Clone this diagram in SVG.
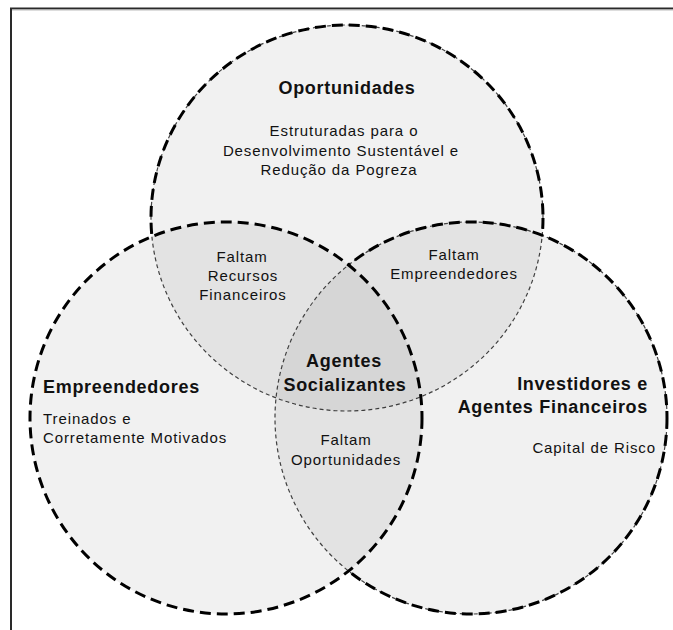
<svg xmlns="http://www.w3.org/2000/svg" width="673" height="630" viewBox="0 0 673 630">
  <style>
    .fill { fill: #000; fill-opacity: 0.055; stroke: none; }
    .thin { fill: none; stroke: #444; stroke-width: 1.2; stroke-dasharray: 4 3; }
    .bold { fill: none; stroke: #000; stroke-width: 3; stroke-dasharray: 11 6; }
    text { font-family: "Liberation Sans", Arial, sans-serif; fill: #111; }
    .h { font-size: 18px; font-weight: bold; letter-spacing: 0.7px; }
    .t { font-size: 15px; letter-spacing: 0.9px; }
    .c { text-anchor: middle; }
    .e { text-anchor: end; }
  </style>
  <defs>
    <mask id="mTop" maskUnits="userSpaceOnUse" x="0" y="0" width="673" height="630">
      <rect x="0" y="0" width="673" height="630" fill="#fff"/>
      <circle cx="226" cy="418" r="196" fill="#000"/>
      <circle cx="471" cy="418" r="196" fill="#000"/>
    </mask>
    <mask id="mRight" maskUnits="userSpaceOnUse" x="0" y="0" width="673" height="630">
      <rect x="0" y="0" width="673" height="630" fill="#fff"/>
      <circle cx="226" cy="418" r="196" fill="#000"/>
    </mask>
  </defs>

  <rect x="0" y="0" width="673" height="630" fill="#fff"/>

  <!-- frame -->
  <g id="frame" fill="none">
    <line x1="10" y1="8.5" x2="673" y2="8.5" stroke="#2a2a2a" stroke-width="2"/>
    <line x1="10" y1="10" x2="673" y2="10" stroke="#bbb" stroke-width="1"/>
    <line x1="11" y1="8" x2="11" y2="630" stroke="#2a2a2a" stroke-width="2"/>
  </g>

  <g id="oportunidades">
    <ellipse class="fill" cx="347" cy="218" rx="196" ry="193"/>
    <ellipse class="thin" cx="347" cy="218" rx="196" ry="193"/>
    <ellipse class="bold" cx="347" cy="218" rx="196" ry="193" mask="url(#mTop)"/>
    <text class="h c" x="347" y="94">Oportunidades</text>
    <text class="t c" x="344" y="136">Estruturadas para o</text>
    <text class="t c" x="341" y="156">Desenvolvimento Sustentável e</text>
    <text class="t c" x="339" y="175">Redução da Pogreza</text>
  </g>

  <g id="investidores">
    <circle class="fill" cx="471" cy="418" r="196"/>
    <circle class="thin" cx="471" cy="418" r="196"/>
    <circle class="bold" cx="471" cy="418" r="196" mask="url(#mRight)"/>
    <text class="h e" x="648" y="390">Investidores e</text>
    <text class="h e" x="648" y="413">Agentes Financeiros</text>
    <text class="t e" x="656" y="453">Capital de Risco</text>
  </g>

  <g id="empreendedores">
    <circle class="fill" cx="226" cy="418" r="196"/>
    <circle class="bold" cx="226" cy="418" r="196"/>
    <text class="h" x="43" y="393">Empreendedores</text>
    <text class="t" x="43" y="424">Treinados e</text>
    <text class="t" x="43" y="443">Corretamente Motivados</text>
  </g>

  <g id="intersecoes">
    <g id="faltam-recursos">
      <text class="t c" x="242" y="262">Faltam</text>
      <text class="t c" x="243" y="281">Recursos</text>
      <text class="t c" x="243" y="300">Financeiros</text>
    </g>
    <g id="faltam-empreendedores">
      <text class="t c" x="454" y="260">Faltam</text>
      <text class="t c" x="454" y="279">Empreendedores</text>
    </g>
    <g id="agentes-socializantes">
      <text class="h c" x="344" y="367">Agentes</text>
      <text class="h c" x="345" y="391">Socializantes</text>
    </g>
    <g id="faltam-oportunidades">
      <text class="t c" x="346" y="445">Faltam</text>
      <text class="t c" x="346" y="465">Oportunidades</text>
    </g>
  </g>
</svg>
